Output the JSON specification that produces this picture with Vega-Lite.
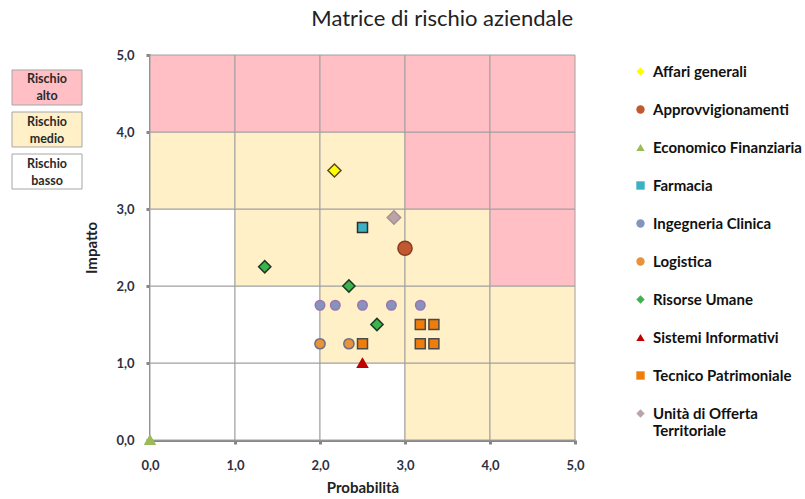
{
  "$schema": "https://vega.github.io/schema/vega-lite/v6.json",
  "background": "white",
  "padding": {"left": 11, "top": 8, "right": 0, "bottom": 4},
  "title": {"text": "Matrice di rischio aziendale", "fontSize": 22, "font": "Lato", "fontWeight": "normal", "color": "#222222", "anchor": "middle", "dx": 31, "offset": 18},
  "spacing": 1,
  "datasets": {
    "livelli": [
      {"livello": "Rischio alto"},
      {"livello": "Rischio medio"},
      {"livello": "Rischio basso"}
    ],
    "celle": [
      {"x0": 0, "x1": 1, "y0": 0, "y1": 1, "zona": "basso"},
      {"x0": 1, "x1": 2, "y0": 0, "y1": 1, "zona": "basso"},
      {"x0": 2, "x1": 3, "y0": 0, "y1": 1, "zona": "basso"},
      {"x0": 3, "x1": 4, "y0": 0, "y1": 1, "zona": "medio"},
      {"x0": 4, "x1": 5, "y0": 0, "y1": 1, "zona": "medio"},
      {"x0": 0, "x1": 1, "y0": 1, "y1": 2, "zona": "basso"},
      {"x0": 1, "x1": 2, "y0": 1, "y1": 2, "zona": "basso"},
      {"x0": 2, "x1": 3, "y0": 1, "y1": 2, "zona": "medio"},
      {"x0": 3, "x1": 4, "y0": 1, "y1": 2, "zona": "medio"},
      {"x0": 4, "x1": 5, "y0": 1, "y1": 2, "zona": "medio"},
      {"x0": 0, "x1": 1, "y0": 2, "y1": 3, "zona": "basso"},
      {"x0": 1, "x1": 2, "y0": 2, "y1": 3, "zona": "medio"},
      {"x0": 2, "x1": 3, "y0": 2, "y1": 3, "zona": "medio"},
      {"x0": 3, "x1": 4, "y0": 2, "y1": 3, "zona": "medio"},
      {"x0": 4, "x1": 5, "y0": 2, "y1": 3, "zona": "alto"},
      {"x0": 0, "x1": 1, "y0": 3, "y1": 4, "zona": "medio"},
      {"x0": 1, "x1": 2, "y0": 3, "y1": 4, "zona": "medio"},
      {"x0": 2, "x1": 3, "y0": 3, "y1": 4, "zona": "medio"},
      {"x0": 3, "x1": 4, "y0": 3, "y1": 4, "zona": "alto"},
      {"x0": 4, "x1": 5, "y0": 3, "y1": 4, "zona": "alto"},
      {"x0": 0, "x1": 1, "y0": 4, "y1": 5, "zona": "alto"},
      {"x0": 1, "x1": 2, "y0": 4, "y1": 5, "zona": "alto"},
      {"x0": 2, "x1": 3, "y0": 4, "y1": 5, "zona": "alto"},
      {"x0": 3, "x1": 4, "y0": 4, "y1": 5, "zona": "alto"},
      {"x0": 4, "x1": 5, "y0": 4, "y1": 5, "zona": "alto"}
    ],
    "punti": [
      {"serie": "Affari generali", "probabilita": 2.17, "impatto": 3.5},
      {"serie": "Approvvigionamenti", "probabilita": 3.0, "impatto": 2.49},
      {"serie": "Economico Finanziaria", "probabilita": 0.0, "impatto": 0.0},
      {"serie": "Farmacia", "probabilita": 2.5, "impatto": 2.76},
      {"serie": "Ingegneria Clinica", "probabilita": 2.0, "impatto": 1.75},
      {"serie": "Ingegneria Clinica", "probabilita": 2.18, "impatto": 1.75},
      {"serie": "Ingegneria Clinica", "probabilita": 2.5, "impatto": 1.75},
      {"serie": "Ingegneria Clinica", "probabilita": 2.84, "impatto": 1.75},
      {"serie": "Ingegneria Clinica", "probabilita": 3.18, "impatto": 1.75},
      {"serie": "Logistica", "probabilita": 2.0, "impatto": 1.25},
      {"serie": "Logistica", "probabilita": 2.34, "impatto": 1.25},
      {"serie": "Risorse Umane", "probabilita": 1.35, "impatto": 2.25},
      {"serie": "Risorse Umane", "probabilita": 2.34, "impatto": 2.0},
      {"serie": "Risorse Umane", "probabilita": 2.67, "impatto": 1.5},
      {"serie": "Sistemi Informativi", "probabilita": 2.5, "impatto": 1.0},
      {"serie": "Tecnico Patrimoniale", "probabilita": 2.5, "impatto": 1.25},
      {"serie": "Tecnico Patrimoniale", "probabilita": 3.18, "impatto": 1.5},
      {"serie": "Tecnico Patrimoniale", "probabilita": 3.34, "impatto": 1.5},
      {"serie": "Tecnico Patrimoniale", "probabilita": 3.18, "impatto": 1.25},
      {"serie": "Tecnico Patrimoniale", "probabilita": 3.34, "impatto": 1.25},
      {"serie": "Unità di Offerta Territoriale", "probabilita": 2.87, "impatto": 2.89}
    ]
  },
  "hconcat": [
    {
      "width": 70,
      "height": 149,
      "data": {"name": "livelli"},
      "layer": [
        {
          "mark": {"type": "rect", "stroke": "#A6A6A6", "strokeWidth": 1},
          "encoding": {
            "y": {"field": "livello", "type": "nominal", "sort": null, "axis": null,
                  "scale": {"domain": ["Rischio alto", "Rischio medio", "Rischio basso"], "paddingInner": 0.167, "paddingOuter": 0.357}},
            "color": {"field": "livello", "type": "nominal", "legend": null,
                      "scale": {"domain": ["Rischio alto", "Rischio medio", "Rischio basso"], "range": ["#FFBFC5", "#FFF0C8", "#FFFFFF"]}}
          }
        },
        {
          "mark": {"type": "text", "lineBreak": " ", "fontWeight": "bold", "fontSize": 12.5, "lineHeight": 17, "dy": -8, "color": "#2A2A2A", "align": "center", "baseline": "middle", "font": "Lato"},
          "encoding": {
            "y": {"field": "livello", "type": "nominal", "sort": null, "axis": null},
            "text": {"field": "livello", "type": "nominal"}
          }
        }
      ]
    },
    {
      "width": 425,
      "height": 385,
      "layer": [
        {
          "data": {"name": "celle"},
          "mark": {"type": "rect", "stroke": "#A0A0A0", "strokeWidth": 1},
          "encoding": {
            "x": {"field": "x0", "type": "quantitative", "title": "Probabilità",
                  "axis": {"values": [0, 1, 2, 3, 4, 5]},
                  "scale": {"domain": [0, 5], "nice": false, "zero": true}},
            "x2": {"field": "x1"},
            "y": {"field": "y0", "type": "quantitative", "title": "Impatto",
                  "axis": {"values": [0, 1, 2, 3, 4, 5]},
                  "scale": {"domain": [0, 5], "nice": false, "zero": true}},
            "y2": {"field": "y1"},
            "color": {"field": "zona", "type": "nominal", "legend": null,
                      "scale": {"domain": ["alto", "medio", "basso"], "range": ["#FFBFC5", "#FFF0C8", "#FFFFFF"]}}
          }
        },
        {
          "data": {"name": "punti"},
          "mark": {"type": "point", "filled": true, "opacity": 1, "strokeWidth": 1.5},
          "encoding": {
            "x": {"field": "probabilita", "type": "quantitative", "title": "Probabilità", "axis": {"values": [0, 1, 2, 3, 4, 5]}},
            "y": {"field": "impatto", "type": "quantitative", "title": "Impatto", "axis": {"values": [0, 1, 2, 3, 4, 5]}},
            "fill": {"field": "serie", "type": "nominal",
                     "legend": {"title": null,
                                "labelExpr": "datum.label == 'Unità di Offerta Territoriale' ? ['Unità di Offerta', 'Territoriale'] : datum.label",
                                "symbolStrokeColor": "#1F3864", "symbolStrokeWidth": 1},
                     "scale": {"domain": ["Affari generali", "Approvvigionamenti", "Economico Finanziaria", "Farmacia", "Ingegneria Clinica", "Logistica", "Risorse Umane", "Sistemi Informativi", "Tecnico Patrimoniale", "Unità di Offerta Territoriale"],
                               "range": ["#FFFF00", "#C0592F", "#9BBB59", "#3AB2C4", "#8494BC", "#E8923A", "#3CB44B", "#C00000", "#F07D0A", "#B9A4A8"]}},
            "shape": {"field": "serie", "type": "nominal",
                      "legend": {"title": null,
                                 "labelExpr": "datum.label == 'Unità di Offerta Territoriale' ? ['Unità di Offerta', 'Territoriale'] : datum.label",
                                 "symbolStrokeColor": "#1F3864", "symbolStrokeWidth": 1},
                      "scale": {"domain": ["Affari generali", "Approvvigionamenti", "Economico Finanziaria", "Farmacia", "Ingegneria Clinica", "Logistica", "Risorse Umane", "Sistemi Informativi", "Tecnico Patrimoniale", "Unità di Offerta Territoriale"],
                                "range": ["diamond", "circle", "triangle-up", "square", "circle", "circle", "diamond", "triangle-up", "square", "diamond"]}},
            "stroke": {"field": "serie", "type": "nominal", "legend": null,
                       "scale": {"domain": ["Unità di Offerta Territoriale", "Tecnico Patrimoniale", "Sistemi Informativi", "Risorse Umane", "Logistica", "Ingegneria Clinica", "Farmacia", "Economico Finanziaria", "Approvvigionamenti", "Affari generali"],
                                 "range": ["#A89090", "#4A4A4A", "#C00000", "#1E3A28", "#6E6E80", "#A070B0", "#2E2E2E", "#9BBB59", "#8A3A1E", "#5A4E10"]}},
            "size": {"field": "serie", "type": "nominal", "legend": null,
                     "scale": {"type": "ordinal",
                               "domain": ["Tecnico Patrimoniale", "Affari generali", "Approvvigionamenti", "Economico Finanziaria", "Farmacia", "Ingegneria Clinica", "Logistica", "Risorse Umane", "Sistemi Informativi", "Unità di Offerta Territoriale"],
                               "range": [100, 170, 200, 100, 100, 90, 105, 150, 100, 180]}}
          }
        }
      ]
    }
  ],
  "resolve": {
    "scale": {"color": "independent", "y": "independent"}
  },
  "config": {
    "font": "Lato",
    "view": {"stroke": null},
    "axis": {
      "grid": false,
      "domainColor": "#868686",
      "domainWidth": 3,
      "tickColor": "#868686",
      "tickWidth": 3,
      "tickSize": 4,
      "labelFlush": false,
      "labelExpr": "replace(format(datum.value, '.1f'), '.', ',')",
      "labelFont": "Lato",
      "labelFontSize": 13,
      "labelFontWeight": "bold",
      "labelColor": "#2F2F3F",
      "titleFont": "Lato",
      "titleFontSize": 15,
      "titleFontWeight": "bold",
      "titleColor": "#222222"
    },
    "axisX": {"labelPadding": 15, "titlePadding": 8},
    "axisY": {"labelPadding": 12, "titlePadding": 16},
    "legend": {
      "orient": "right",
      "offset": 39,
      "padding": 9,
      "labelFont": "Lato",
      "labelFontSize": 15,
      "labelFontWeight": "bold",
      "labelColor": "#111111",
      "labelLimit": 200,
      "labelOffset": 5,
      "rowPadding": 22,
      "symbolSize": 70,
      "symbolStrokeWidth": 1,
      "symbolStrokeColor": "#1F3864"
    }
  }
}
